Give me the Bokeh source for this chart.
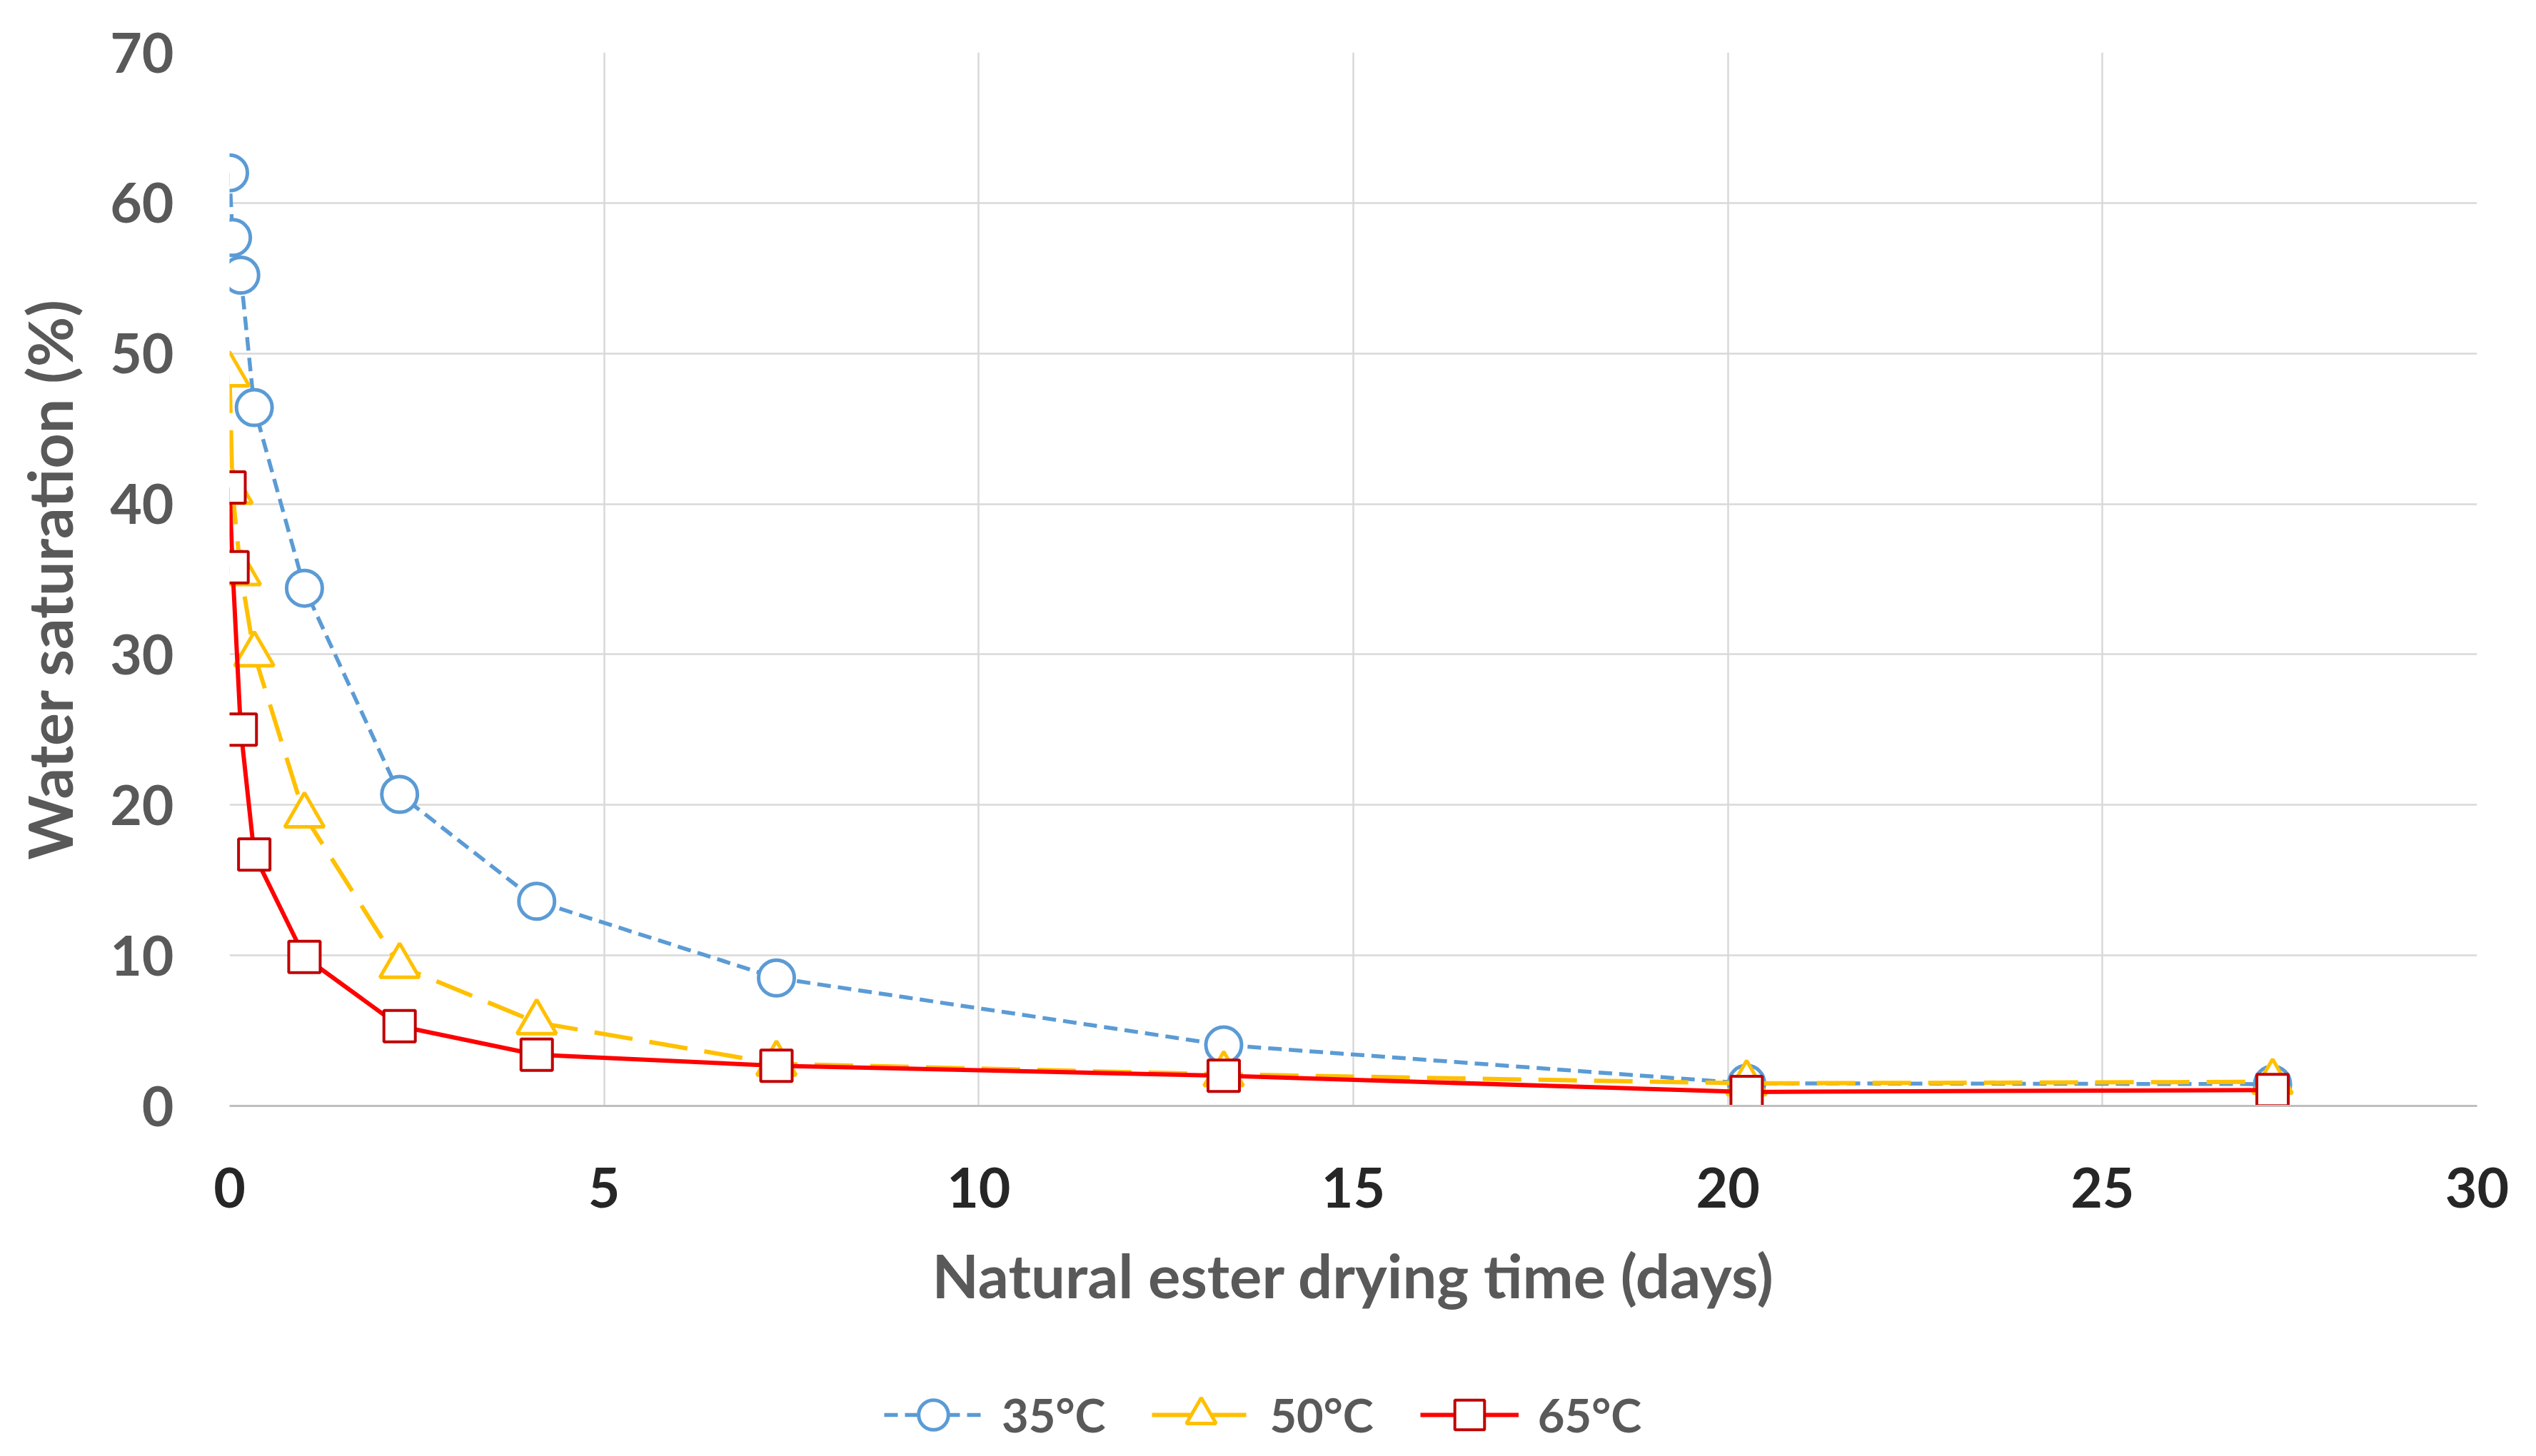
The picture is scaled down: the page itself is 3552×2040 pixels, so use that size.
from bokeh.plotting import figure
from bokeh.layouts import column
from bokeh.models import Range1d, FixedTicker, Legend, LegendItem
from bokeh.embed import file_html
from bokeh.resources import INLINE

# ---- data ----
days = [0, 0.04, 0.15, 0.33, 1.0, 2.27, 4.1, 7.3, 13.27, 20.25, 27.27]
sat_35 = [62.0, 57.7, 55.2, 46.4, 34.4, 20.7, 13.6, 8.5, 4.05, 1.5, 1.45]
sat_50 = [48.6, 40.8, 35.4, 30.0, 19.3, 9.3, 5.55, 2.8, 2.1, 1.5, 1.6]
sat_65 = [41.1, 35.8, 25.0, 16.7, 9.9, 5.3, 3.4, 2.67, 2.0, 0.93, 1.06]
series_names = ["35°C", "50°C", "65°C"]
x_ticks = [0, 5, 10, 15, 20, 25, 30]
y_ticks = [0, 10, 20, 30, 40, 50, 60, 70]

FONT = "Lato"
W = 3536
H_MAIN = 1882
H_LEG = 152

styles = [
    dict(color="#5B9BD5", width=5.5, dash="19 10", marker="circle", size=50,
         mline="#5B9BD5", mwidth=5),
    dict(color="#FFC000", width=6, dash="54 24", marker="triangle", size=55,
         mline="#FFC000", mwidth=5),
    dict(color="#FF0000", width=6, dash="solid", marker="square", size=44,
         mline="#C00000", mwidth=4),
]
values = [sat_35, sat_50, sat_65]

p = figure(width=W, height=H_MAIN,
           x_range=Range1d(0, 30), y_range=Range1d(0, 70),
           output_backend="svg", toolbar_location=None,
           min_border_left=321, min_border_right=W - 321 - 3148,
           min_border_top=73, min_border_bottom=H_MAIN - 73 - 1476,
           background_fill_color="white", border_fill_color="white",
           outline_line_color=None)

# grid
p.xgrid.ticker = FixedTicker(ticks=x_ticks)
p.ygrid.ticker = FixedTicker(ticks=y_ticks)
p.grid.grid_line_color = "#D9D9D9"
p.grid.grid_line_width = 2.5

# axes
p.xaxis.ticker = FixedTicker(ticks=x_ticks)
p.yaxis.ticker = FixedTicker(ticks=y_ticks)
for ax in (p.xaxis, p.yaxis):
    ax.major_tick_line_color = None
    ax.minor_tick_line_color = None
    ax.major_label_text_font = FONT
    ax.major_label_text_font_style = "bold"
    ax.major_label_text_font_size = "77px"
    ax.axis_label_text_font = FONT
    ax.axis_label_text_font_style = "bold"
    ax.axis_label_text_color = "#595959"

p.xaxis.axis_line_color = "#BFBFBF"
p.xaxis.axis_line_width = 3
p.xaxis.major_label_text_color = "#262626"
p.xaxis.major_label_standoff = 80
p.xaxis.axis_label = "Natural ester drying time (days)"
p.xaxis.axis_label_text_font_size = "85px"
p.xaxis.axis_label_standoff = 40

p.yaxis.axis_line_color = None
p.yaxis.major_label_text_color = "#595959"
p.yaxis.major_label_standoff = 72
p.yaxis.axis_label = "Water saturation (%)"
p.yaxis.axis_label_text_font_size = "86px"
p.yaxis.axis_label_standoff = 31

# series
for vals, st in zip(values, styles):
    p.line(days, vals, line_color=st["color"], line_width=st["width"],
           line_dash=st["dash"])
    p.scatter(days, vals, marker=st["marker"], size=st["size"],
              line_color=st["mline"], line_width=st["mwidth"], fill_color="white")

# legend strip below the chart: same series drawn again, but the strip's
# ranges view an empty window, so only the legend keys show
lp = figure(width=W, height=H_LEG, x_range=Range1d(0, 1), y_range=Range1d(-10, -5),
            output_backend="svg", toolbar_location=None,
            x_axis_type=None, y_axis_type=None, min_border=0,
            background_fill_color="white", border_fill_color="white",
            outline_line_color=None)
lp.grid.visible = False
items = []
for name, vals, st in zip(series_names, values, styles):
    lr = lp.line(days, vals, line_color=st["color"], line_width=st["width"],
                 line_dash=st["dash"])
    sr = lp.scatter(days, vals, marker=st["marker"], size=st["size"],
                    line_color=st["mline"], line_width=st["mwidth"],
                    fill_color="white")
    items.append(LegendItem(label=name, renderers=[lr, sr]))

legend = Legend(items=items, orientation="horizontal", location=(917, 0))
legend.label_text_font = FONT
legend.label_text_font_style = "bold"
legend.label_text_font_size = "65px"
legend.label_text_color = "#595959"
legend.glyph_width = 138
legend.glyph_height = 104
legend.label_height = 50
legend.label_standoff = 27
legend.spacing = 65
legend.padding = 0
legend.margin = 0
legend.border_line_color = None
legend.background_fill_alpha = 0
lp.add_layout(legend, "center")

open("out.html", "w").write(file_html(column(p, lp, spacing=0), INLINE))
